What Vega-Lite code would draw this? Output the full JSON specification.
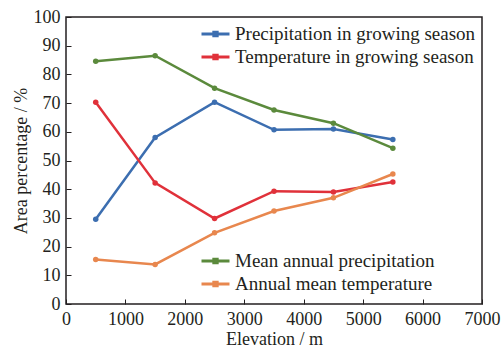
{
  "$schema": "https://vega.github.io/schema/vega-lite/v6.json",
  "width": 416,
  "height": 287,
  "autosize": "none",
  "padding": {"left": 66, "top": 17, "right": 21, "bottom": 46},
  "background": "white",
  "config": {
    "font": "'Liberation Serif', 'Times New Roman', serif",
    "view": {"stroke": "#231f20", "strokeWidth": 1.5},
    "axis": {
      "grid": false,
      "domain": false,
      "tickColor": "#231f20",
      "tickSize": -5,
      "tickWidth": 1,
      "labelFont": "'Liberation Serif', 'Times New Roman', serif",
      "labelFontSize": 18,
      "labelColor": "#231f20",
      "titleFont": "'Liberation Serif', 'Times New Roman', serif",
      "titleFontSize": 18,
      "titleFontWeight": "normal",
      "titleColor": "#231f20"
    },
    "legend": {
      "labelFont": "'Liberation Serif', 'Times New Roman', serif",
      "labelFontSize": 19,
      "labelColor": "#231f20",
      "labelLimit": 400,
      "title": null
    }
  },
  "data": {
    "values": [
      {"elevation": 500, "value": 29.5, "series": "Precipitation in growing season", "group": "season"},
      {"elevation": 1500, "value": 58.0, "series": "Precipitation in growing season", "group": "season"},
      {"elevation": 2500, "value": 70.3, "series": "Precipitation in growing season", "group": "season"},
      {"elevation": 3500, "value": 60.7, "series": "Precipitation in growing season", "group": "season"},
      {"elevation": 4500, "value": 61.0, "series": "Precipitation in growing season", "group": "season"},
      {"elevation": 5500, "value": 57.3, "series": "Precipitation in growing season", "group": "season"},
      {"elevation": 500, "value": 70.3, "series": "Temperature in growing season", "group": "season"},
      {"elevation": 1500, "value": 42.2, "series": "Temperature in growing season", "group": "season"},
      {"elevation": 2500, "value": 29.8, "series": "Temperature in growing season", "group": "season"},
      {"elevation": 3500, "value": 39.3, "series": "Temperature in growing season", "group": "season"},
      {"elevation": 4500, "value": 39.0, "series": "Temperature in growing season", "group": "season"},
      {"elevation": 5500, "value": 42.5, "series": "Temperature in growing season", "group": "season"},
      {"elevation": 500, "value": 84.6, "series": "Mean annual precipitation", "group": "annual"},
      {"elevation": 1500, "value": 86.5, "series": "Mean annual precipitation", "group": "annual"},
      {"elevation": 2500, "value": 75.2, "series": "Mean annual precipitation", "group": "annual"},
      {"elevation": 3500, "value": 67.6, "series": "Mean annual precipitation", "group": "annual"},
      {"elevation": 4500, "value": 63.0, "series": "Mean annual precipitation", "group": "annual"},
      {"elevation": 5500, "value": 54.3, "series": "Mean annual precipitation", "group": "annual"},
      {"elevation": 500, "value": 15.5, "series": "Annual mean temperature", "group": "annual"},
      {"elevation": 1500, "value": 13.8, "series": "Annual mean temperature", "group": "annual"},
      {"elevation": 2500, "value": 24.8, "series": "Annual mean temperature", "group": "annual"},
      {"elevation": 3500, "value": 32.4, "series": "Annual mean temperature", "group": "annual"},
      {"elevation": 4500, "value": 37.0, "series": "Annual mean temperature", "group": "annual"},
      {"elevation": 5500, "value": 45.3, "series": "Annual mean temperature", "group": "annual"}
    ]
  },
  "encoding": {
    "x": {
      "field": "elevation",
      "type": "quantitative",
      "title": "Elevation / m",
      "scale": {"domain": [0, 7000], "nice": false},
      "axis": {"values": [0, 1000, 2000, 3000, 4000, 5000, 6000, 7000], "format": "d", "labelPadding": 11, "titlePadding": 2, "labelFlush": false, "labelOverlap": false}
    },
    "y": {
      "field": "value",
      "type": "quantitative",
      "title": "Area percentage / %",
      "scale": {"domain": [0, 100], "nice": false},
      "axis": {"values": [0, 10, 20, 30, 40, 50, 60, 70, 80, 90, 100], "format": "d", "labelPadding": 11, "titlePadding": 3, "labelFlush": false, "labelOverlap": false}
    }
  },
  "layer": [
    {
      "transform": [{"filter": "datum.group === 'season'"}],
      "mark": {"type": "line", "strokeWidth": 2.5, "point": {"filled": true, "size": 30}},
      "encoding": {
        "color": {
          "field": "series",
          "type": "nominal",
          "scale": {
            "domain": ["Precipitation in growing season", "Temperature in growing season"],
            "range": ["#3c6eb0", "#e0313a"]
          },
          "legend": {
            "orient": "none",
            "legendX": 134,
            "legendY": 7,
            "symbolType": "M-1,0H1M-0.12,-0.12H0.12V0.12H-0.12Z",
            "symbolSize": 784,
            "symbolStrokeWidth": 3,
            "labelOffset": 4,
            "clipHeight": 20,
            "rowPadding": 3
          }
        }
      }
    },
    {
      "transform": [{"filter": "datum.group === 'annual'"}],
      "mark": {"type": "line", "strokeWidth": 2.5, "point": {"filled": true, "size": 30}},
      "encoding": {
        "color": {
          "field": "series",
          "type": "nominal",
          "scale": {
            "domain": ["Mean annual precipitation", "Annual mean temperature"],
            "range": ["#5b8a3c", "#e8874e"]
          },
          "legend": {
            "orient": "none",
            "legendX": 134,
            "legendY": 234,
            "symbolType": "M-1,0H1M-0.12,-0.12H0.12V0.12H-0.12Z",
            "symbolSize": 784,
            "symbolStrokeWidth": 3,
            "labelOffset": 4,
            "clipHeight": 20,
            "rowPadding": 3
          }
        }
      }
    }
  ],
  "resolve": {"scale": {"color": "independent"}, "legend": {"color": "independent"}}
}
